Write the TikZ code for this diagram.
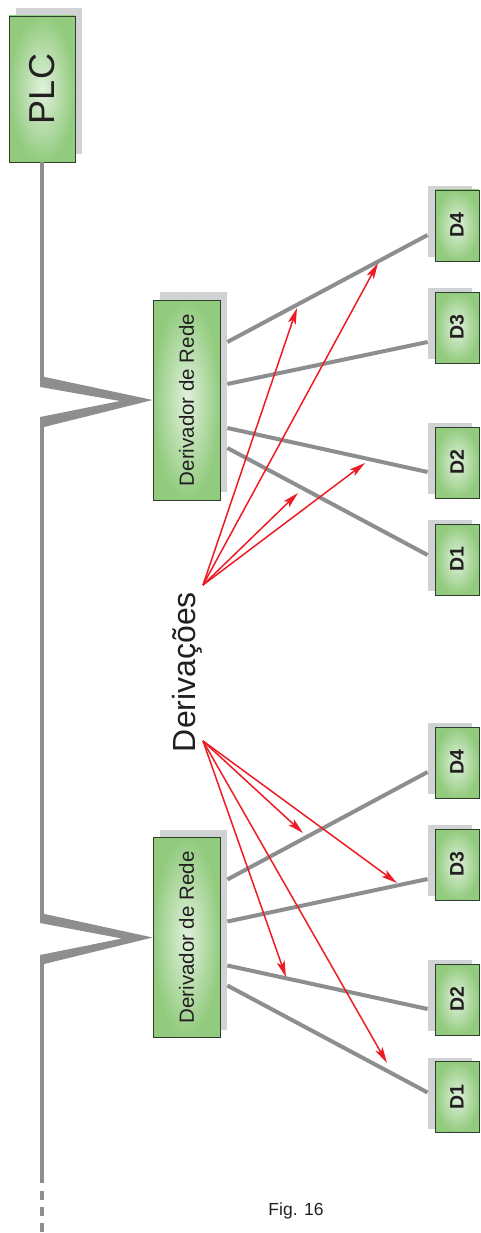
\documentclass[tikz,border=0pt]{standalone}
\usepackage{fontspec}
\setmainfont{Liberation Sans}
\usetikzlibrary{arrows.meta,shadows,calc}
\definecolor{linegray}{RGB}{141,142,144}
\definecolor{shadowgray}{RGB}{209,210,212}
\definecolor{boxgreen}{RGB}{146,203,126}
\definecolor{boxlight}{RGB}{224,241,220}
\definecolor{boxborder}{RGB}{45,62,45}
\definecolor{arrowred}{RGB}{237,28,36}
\definecolor{textdark}{RGB}{35,31,32}
\begin{document}
\begin{tikzpicture}[x=1pt,y=-1pt,
  greenbox/.style={draw=boxborder, line width=0.8pt, inner color=boxlight, outer color=boxgreen, inner sep=0pt, text=textdark},
  bigbox/.style={greenbox, general shadow={fill=shadowgray, shadow xshift=7pt, shadow yshift=8pt}, minimum width=67pt, minimum height=200pt, font=\fontsize{20.5}{20.5}\selectfont},
  plcbox/.style={greenbox, general shadow={fill=shadowgray, shadow xshift=7pt, shadow yshift=8pt}, minimum width=66pt, minimum height=146pt, font=\fontsize{36}{36}\selectfont},
  devbox/.style={greenbox, general shadow={fill=shadowgray, shadow xshift=-7pt, shadow yshift=4pt}, minimum width=44pt, minimum height=71pt, font=\fontsize{19.5}{19.5}\selectfont\bfseries},
  trunk/.style={draw=linegray, line width=4pt},
  conn/.style={draw=linegray, line width=4pt},
  vshape/.style={fill=linegray},
  redarrow/.style={draw=arrowred, line width=1.5pt, -{Stealth[length=16pt,width=8pt,inset=3.5pt]}},
  label/.style={text=textdark, inner sep=0pt}
]
\useasboundingbox (0,0) rectangle (481,1233);

% nodes
\node[plcbox] (plc) at (42,89) {\rotatebox{90}{PLC}};
\node[bigbox] (b1) at (186.5,400) {\rotatebox{90}{Derivador de Rede}};
\node[bigbox] (b2) at (186.5,937.5) {\rotatebox{90}{Derivador de Rede}};

\node[devbox] (u4) at (457,225.5) {\rotatebox{90}{D4}};
\node[devbox] (u3) at (457,327.5) {\rotatebox{90}{D3}};
\node[devbox] (u2) at (457,462.5) {\rotatebox{90}{D2}};
\node[devbox] (u1) at (457,559.5) {\rotatebox{90}{D1}};

\node[devbox] (l4) at (457,762.5) {\rotatebox{90}{D4}};
\node[devbox] (l3) at (457,864.5) {\rotatebox{90}{D3}};
\node[devbox] (l2) at (457,999.5) {\rotatebox{90}{D2}};
\node[devbox] (l1) at (457,1097) {\rotatebox{90}{D1}};

\node[label, font=\fontsize{32}{32}\selectfont] (der) at (187,672) {\rotatebox{90}{Derivações}};
\node[label, font=\fontsize{17.5}{17.5}\selectfont] (fig) at (296,1211) {Fig. 16};

% trunk
\draw[trunk] (plc.south) -- (42,381);
\fill[vshape] (40,376) -- (b1.west) -- (40,428) -- (40,417) -- (120,401) -- (40,387) -- cycle;
\draw[trunk] (42,423) -- (42,918);
\fill[vshape] (40,913) -- (b2.west) -- (40,965) -- (40,955) -- (122,938.5) -- (40,923) -- cycle;
\draw[trunk] (42,960) -- (42,1183);
\draw[trunk, dash pattern=on 9pt off 7pt] (42,1191) -- (42,1240);

% connectors upper
\draw[conn] ([xshift=7pt,yshift=58pt]b1.east) -- ([xshift=-7pt,yshift=-9.5pt]u4.west);
\draw[conn] ([xshift=7pt,yshift=16pt]b1.east) -- ([xshift=-7pt,yshift=-14.5pt]u3.west);
\draw[conn] ([xshift=7pt,yshift=-28pt]b1.east) -- ([xshift=-7pt,yshift=-9.5pt]u2.west);
\draw[conn] ([xshift=7pt,yshift=-48pt]b1.east) -- ([xshift=-7pt,yshift=4.5pt]u1.west);

% connectors lower
\draw[conn] ([xshift=7pt,yshift=58pt]b2.east) -- ([xshift=-7pt,yshift=-9.5pt]l4.west);
\draw[conn] ([xshift=7pt,yshift=16pt]b2.east) -- ([xshift=-7pt,yshift=-14.5pt]l3.west);
\draw[conn] ([xshift=7pt,yshift=-28pt]b2.east) -- ([xshift=-7pt,yshift=-9.5pt]l2.west);
\draw[conn] ([xshift=7pt,yshift=-48pt]b2.east) -- ([xshift=-7pt,yshift=4.5pt]l1.west);

% red arrows
\coordinate (s1) at (203,585);
\coordinate (s2) at (203,741);
\coordinate (t1) at (297,308);
\coordinate (t2) at (378,263);
\coordinate (t3) at (298,493);
\coordinate (t4) at (365,463);
\coordinate (t5) at (303,833);
\coordinate (t6) at (397,883);
\coordinate (t7) at (286,977);
\coordinate (t8) at (387,1063);
\foreach \t in {t1,t2,t3,t4} \draw[redarrow] (s1) -- (\t);
\foreach \t in {t5,t6,t7,t8} \draw[redarrow] (s2) -- (\t);
\end{tikzpicture}
\end{document}
